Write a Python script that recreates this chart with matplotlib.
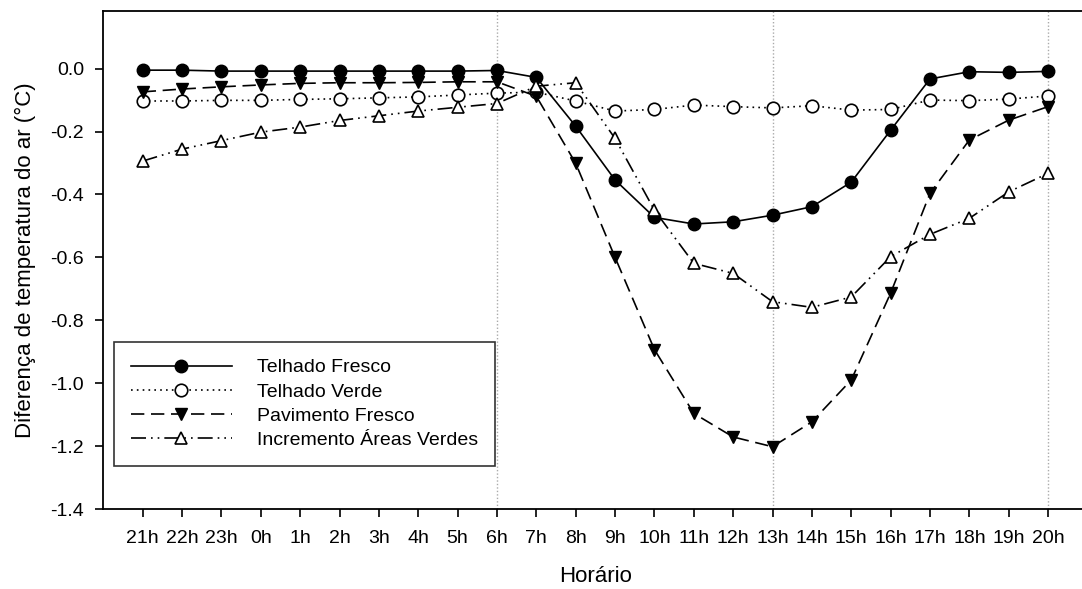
import matplotlib
matplotlib.use("Agg")
import matplotlib.pyplot as plt
import numpy as np

# Hourly air-temperature differences (°C) for each mitigation scenario
hours = ["21h", "22h", "23h", "0h", "1h", "2h", "3h", "4h", "5h", "6h", "7h", "8h",
         "9h", "10h", "11h", "12h", "13h", "14h", "15h", "16h", "17h", "18h", "19h", "20h"]

telhado_fresco = [-0.005, -0.005, -0.008, -0.008, -0.008, -0.008, -0.008, -0.008, -0.008, -0.006,
                  -0.028, -0.183, -0.354, -0.473, -0.494, -0.487, -0.466, -0.439, -0.361, -0.196,
                  -0.033, -0.010, -0.012, -0.009]
telhado_verde = [-0.103, -0.103, -0.101, -0.101, -0.098, -0.096, -0.093, -0.090, -0.084, -0.078,
                 -0.075, -0.103, -0.135, -0.130, -0.116, -0.121, -0.125, -0.118, -0.132, -0.130,
                 -0.100, -0.102, -0.097, -0.087]
pavimento_fresco = [-0.074, -0.065, -0.058, -0.052, -0.047, -0.045, -0.045, -0.044, -0.042, -0.042,
                    -0.088, -0.301, -0.600, -0.893, -1.096, -1.171, -1.202, -1.123, -0.990, -0.714,
                    -0.397, -0.227, -0.164, -0.121]
incremento_areas = [-0.294, -0.256, -0.229, -0.202, -0.186, -0.165, -0.150, -0.135, -0.123, -0.111,
                    -0.056, -0.045, -0.222, -0.450, -0.619, -0.651, -0.741, -0.759, -0.726, -0.598,
                    -0.527, -0.476, -0.392, -0.333]

yticks = [0.0, -0.2, -0.4, -0.6, -0.8, -1.0, -1.2, -1.4]
marked_hours = ["6h", "13h", "20h"]

plt.rcParams["font.family"] = ["Liberation Sans", "DejaVu Sans"]

fig = plt.figure(figsize=(10.82, 5.89), dpi=100)
ax = fig.add_axes([0.0955, 0.1358, 0.9095, 0.8455])

x = np.arange(len(hours))

# Light dotted guides at selected hours
for h in marked_hours:
    ax.axvline(hours.index(h), color="#aaaaaa", linestyle=(0, (1, 1.5)), linewidth=1.0, zorder=0)

lw = 1.2
ms = 9
ax.plot(x, telhado_fresco, color="black", linestyle="-", linewidth=lw,
        marker="o", markersize=ms, markerfacecolor="black", markeredgecolor="black",
        label="Telhado Fresco", zorder=3)
ax.plot(x, telhado_verde, color="black", linestyle=(0, (1, 2.5)), linewidth=lw,
        marker="o", markersize=ms, markerfacecolor="white", markeredgecolor="black",
        markeredgewidth=1.2, label="Telhado Verde", zorder=3)
ax.plot(x, pavimento_fresco, color="black", linestyle=(0, (8, 4)), linewidth=lw,
        marker="v", markersize=ms, markerfacecolor="black", markeredgecolor="black",
        label="Pavimento Fresco", zorder=3)
ax.plot(x, incremento_areas, color="black", linestyle=(0, (9, 3, 1, 3, 1, 3)), linewidth=lw,
        marker="^", markersize=ms, markerfacecolor="white", markeredgecolor="black",
        markeredgewidth=1.2, label="Incremento Áreas Verdes", zorder=3)

ax.set_xlim(-1.0, 24.0)
ax.set_ylim(-1.4, 0.183)
ax.set_xticks(x)
ax.set_xticklabels(hours)
ax.set_yticks(yticks)
ax.set_yticklabels([f"{v:.1f}" for v in yticks])

ax.tick_params(axis="both", direction="out", length=6, width=1.2, labelsize=14, pad=8)
ax.tick_params(axis="x", pad=9)
for side in ["left", "bottom", "top"]:
    ax.spines[side].set_linewidth(1.3)
ax.spines["right"].set_visible(False)

ax.set_xlabel("Horário", fontsize=16, labelpad=14)
ax.set_ylabel("Diferença de temperatura do ar (°C)", fontsize=16, labelpad=10)

leg = ax.legend(loc="lower left", bbox_to_anchor=(0.011, 0.087), fontsize=14,
                frameon=True, fancybox=False, edgecolor="black", handlelength=5.2,
                handletextpad=1.3, borderpad=0.85, labelspacing=0.34, borderaxespad=0)
leg.get_frame().set_linewidth(1.2)

fig.savefig("out.png", dpi=100)
